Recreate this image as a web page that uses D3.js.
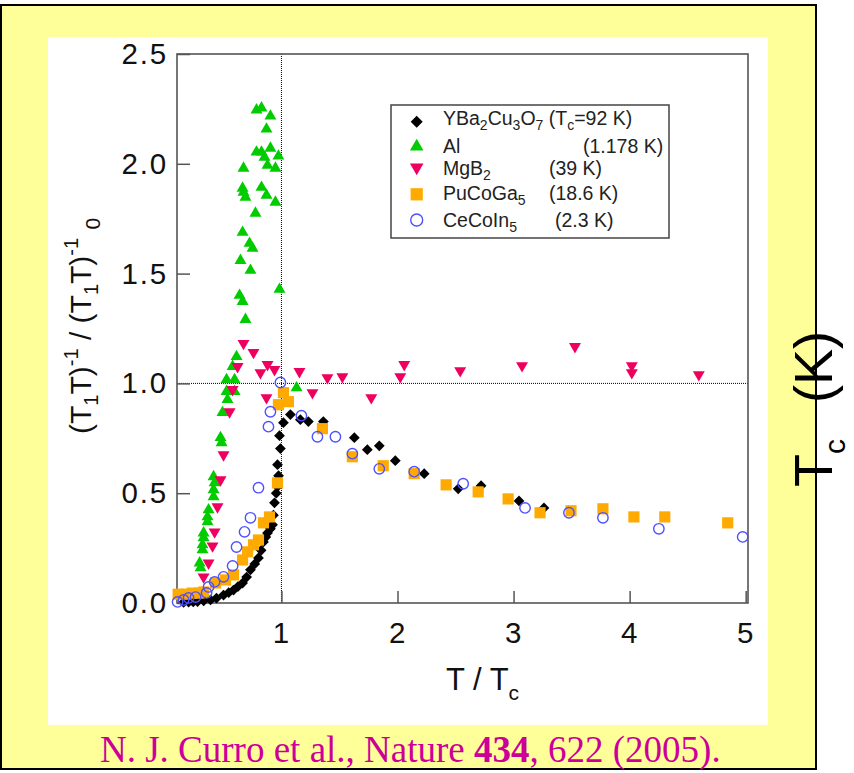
<!DOCTYPE html>
<html>
<head>
<meta charset="utf-8">
<script src="https://cdn.jsdelivr.net/npm/d3@7"></script>
<style>
  html, body { margin: 0; padding: 0; background: #fff; }
  svg { display: block; }
</style>
</head>
<body>
<svg id="chart" width="854" height="773"></svg>
<script>
// Tick values
const xTicks = [1, 2, 3, 4, 5];
const yTicks = [0, 0.5, 1.0, 1.5, 2.0, 2.5];

// Relaxation rate (T1T)^-1 normalised to its normal-state value, versus T/Tc
const ybco = [
  [0.157,0.003],[0.20,0.004],[0.24,0.005],[0.277,0.006],[0.33,0.010],[0.389,0.014],
  [0.44,0.022],[0.501,0.036],[0.545,0.047],[0.587,0.059],[0.625,0.075],[0.665,0.091],
  [0.70,0.118],[0.733,0.151],[0.77,0.178],[0.802,0.205],[0.825,0.240],[0.845,0.278],
  [0.865,0.300],[0.880,0.319],[0.905,0.338],[0.923,0.356],[0.931,0.400],[0.94,0.456],
  [0.955,0.500],[0.966,0.530],[0.975,0.580],[0.966,0.630],[0.991,0.703],[0.983,0.762],
  [1.017,0.821],[1.077,0.858],[1.163,0.835],[1.232,0.826],[1.361,0.826],[1.628,0.753],
  [1.740,0.698],[1.843,0.716],[1.981,0.648],[2.230,0.589],[2.523,0.520],[2.720,0.534],
  [3.047,0.465],[3.262,0.433]
];
const al = [
  [0.295,0.182],[0.303,0.160],[0.320,0.265],[0.320,0.242],[0.329,0.319],[0.329,0.297],
  [0.363,0.392],[0.363,0.370],[0.372,0.424],[0.415,0.575],[0.424,0.547],[0.415,0.516],
  [0.415,0.484],[0.475,0.753],[0.484,0.730],[0.492,0.867],[0.535,0.926],[0.527,0.963],
  [0.596,0.963],[0.527,1.017],[0.596,1.017],[0.579,1.077],[0.613,1.122],[0.690,1.291],
  [0.665,1.373],[0.639,1.401],[0.983,1.428],[0.733,1.515],[0.647,1.560],[0.751,1.615],
  [0.725,1.638],[0.665,1.688],[0.776,1.775],[0.948,1.825],[0.871,1.857],[0.690,1.848],
  [0.673,1.870],[0.665,1.889],[0.828,1.893],[0.948,1.980],[0.673,1.980],[0.880,1.993],
  [0.974,2.035],[0.854,2.030],[0.905,2.071],[0.785,2.053],[0.828,2.053],[0.871,2.158],
  [0.905,2.217],[0.785,2.245],[0.828,2.254],[1.130,0.980]
];
const mgb2 = [
  [0.329,0.119],[0.372,0.182],[0.406,0.260],[0.424,0.324],[0.449,0.438],[0.475,0.561],
  [0.501,0.675],[0.553,0.871],[0.579,0.972],[0.622,1.077],[0.673,1.182],[0.759,1.141],
  [0.819,1.049],[0.871,0.935],[0.880,1.086],[0.940,1.063],[1.155,1.054],[1.267,0.958],
  [1.396,1.026],[1.525,1.031],[1.774,0.935],[2.024,1.031],[2.058,1.086],[2.540,1.058],
  [3.073,1.081],[3.529,1.168],[4.019,1.081],[4.019,1.049],[4.596,1.040]
];
const pucoga5 = [
  [0.11,0.040],[0.17,0.040],[0.23,0.045],[0.29,0.045],[0.33,0.050],[0.432,0.091],
  [0.518,0.105],[0.587,0.128],[0.665,0.196],[0.708,0.233],[0.759,0.265],[0.802,0.287],
  [0.845,0.365],[0.897,0.392],[0.966,0.547],[0.974,0.903],[1.017,0.958],[1.060,0.917],
  [1.353,0.794],[1.611,0.666],[1.877,0.625],[2.144,0.589],[2.419,0.538],[2.695,0.506],
  [2.953,0.474],[3.228,0.411],[3.495,0.420],[3.770,0.429],[4.037,0.392],[4.303,0.392],
  [4.845,0.365]
];
const cecoin5 = [
  [0.105,0.005],[0.157,0.014],[0.200,0.023],[0.260,0.027],[0.355,0.046],[0.372,0.073],
  [0.424,0.096],[0.501,0.119],[0.579,0.169],[0.613,0.255],[0.682,0.324],[0.733,0.388],
  [0.802,0.525],[0.888,0.803],[0.905,0.871],[0.991,1.004],[1.172,0.853],[1.310,0.757],
  [1.465,0.757],[1.611,0.680],[1.843,0.611],[2.144,0.598],[2.566,0.543],[3.099,0.433],
  [3.477,0.411],[3.770,0.388],[4.252,0.338],[4.974,0.301]
];

const COL = { ybco: "#000000", al: "#00cc00", mgb2: "#f0005e", pu: "#ffaa00", ce: "#5050ff" };
const SANS = "'Liberation Sans', Arial, Helvetica, sans-serif";
const SERIF = "'Liberation Serif', 'Times New Roman', serif";

const svg = d3.select("#chart");

// Slide background: yellow frame with black border, white chart panel
svg.append("rect").attr("x", 1).attr("y", 5).attr("width", 815).attr("height", 764)
  .attr("fill", "#ffff99").attr("stroke", "#000").attr("stroke-width", 2);
svg.append("rect").attr("x", 48).attr("y", 37).attr("width", 720).attr("height", 688)
  .attr("fill", "#fff");

const x = d3.scaleLinear().domain([0.1, 5.02]).range([177, 748]);
const y = d3.scaleLinear().domain([0, 2.5]).range([603, 54]);

// Reference lines at T = Tc and ratio = 1
const ref = svg.append("g").attr("stroke", "#000").attr("stroke-width", 1).attr("stroke-dasharray", "1,1");
ref.append("line").attr("x1", x(1)).attr("x2", x(1)).attr("y1", y(2.5)).attr("y2", y(0));
ref.append("line").attr("x1", x(0.1)).attr("x2", x(5.02)).attr("y1", y(1)).attr("y2", y(1));

// Axes with inward ticks
const yAxis = svg.append("g").attr("transform", `translate(${x(0.1)},0)`)
  .call(d3.axisLeft(y).tickValues(yTicks).tickFormat(d3.format(".1f"))
    .tickSize(-13).tickSizeOuter(0).tickPadding(9));
const xAxis = svg.append("g").attr("transform", `translate(0,${y(0)})`)
  .call(d3.axisBottom(x).tickValues(xTicks).tickFormat(d3.format("d"))
    .tickSize(-12).tickSizeOuter(0).tickPadding(19));
[yAxis, xAxis].forEach(g => {
  g.select(".domain").remove();
  g.selectAll(".tick line").attr("stroke", "#555").attr("stroke-width", 1.5);
  g.selectAll(".tick text").attr("fill", "#111").attr("font-family", SANS)
    .attr("font-size", 29.5).attr("letter-spacing", 1.8);
});

// Plot frame
svg.append("rect").attr("x", x(0.1)).attr("y", y(2.5))
  .attr("width", x(5.02) - x(0.1)).attr("height", y(0) - y(2.5))
  .attr("fill", "none").attr("stroke", "#555").attr("stroke-width", 1.6);

// Marker drawing helpers
const sq = d3.symbol().type(d3.symbolSquare);
const tri = d3.symbol().type(d3.symbolTriangle);
function drawSeries(data, pathGen, size, rot, fill, stroke, sw) {
  svg.append("g").selectAll("path").data(data).join("path")
    .attr("transform", d => `translate(${x(d[0])},${y(d[1])}) rotate(${rot})`)
    .attr("d", pathGen.size(size)())
    .attr("fill", fill).attr("stroke", stroke).attr("stroke-width", sw);
}
drawSeries(ybco, sq, 58, 45, COL.ybco, "none", 0);
drawSeries(al, tri, 62, 0, COL.al, "none", 0);
drawSeries(mgb2, tri, 62, 180, COL.mgb2, "none", 0);
drawSeries(pucoga5, sq, 125, 0, COL.pu, "none", 0);
svg.append("g").selectAll("circle").data(cecoin5).join("circle")
  .attr("cx", d => x(d[0])).attr("cy", d => y(d[1])).attr("r", 5.2)
  .attr("fill", "none").attr("stroke", COL.ce).attr("stroke-width", 1.4);

// Legend
const lg = svg.append("g");
lg.append("rect").attr("x", 391).attr("y", 105).attr("width", 278).attr("height", 133)
  .attr("fill", "#fff").attr("stroke", "#444").attr("stroke-width", 1.5);
const legendRows = [
  { key: "ybco", base: 125, cy: 121.7, name: [["YBa"],["2","sub"],["Cu"],["3","sub"],["O"],["7","sub"],[" (T"],["c","sub"],["=92 K)"]], extra: null },
  { key: "al", base: 153, cy: 146.5, name: [["Al"]], extra: ["(1.178 K)", 583] },
  { key: "mgb2", base: 175, cy: 167.5, name: [["MgB"],["2","sub"]], extra: ["(39 K)", 549] },
  { key: "pu", base: 200, cy: 194.3, name: [["PuCoGa"],["5","sub"]], extra: ["(18.6 K)", 549] },
  { key: "ce", base: 226.5, cy: 220, name: [["CeCoIn"],["5","sub"]], extra: ["(2.3 K)", 555] }
];
legendRows.forEach(r => {
  const mx = 416.7;
  if (r.key === "ybco") {
    lg.append("path").attr("transform", `translate(${mx},${r.cy}) rotate(45)`)
      .attr("d", sq.size(72)()).attr("fill", COL.ybco);
  } else if (r.key === "al") {
    lg.append("path").attr("transform", `translate(${mx},${r.cy})`)
      .attr("d", tri.size(80)()).attr("fill", COL.al);
  } else if (r.key === "mgb2") {
    lg.append("path").attr("transform", `translate(${mx},${r.cy}) rotate(180)`)
      .attr("d", tri.size(80)()).attr("fill", COL.mgb2);
  } else if (r.key === "pu") {
    lg.append("path").attr("transform", `translate(${mx},${r.cy})`)
      .attr("d", sq.size(150)()).attr("fill", COL.pu);
  } else {
    lg.append("circle").attr("cx", mx).attr("cy", r.cy).attr("r", 6)
      .attr("fill", "none").attr("stroke", COL.ce).attr("stroke-width", 1.4);
  }
  const t = lg.append("text").attr("x", 443).attr("y", r.base)
    .attr("font-family", SANS).attr("font-size", 19.5).attr("fill", "#222");
  let shifted = false;
  r.name.forEach(([s, kind]) => {
    const ts = t.append("tspan").text(s);
    if (kind === "sub" && !shifted) { ts.attr("dy", 5).attr("font-size", 14); shifted = true; }
    else if (kind !== "sub" && shifted) { ts.attr("dy", -5); shifted = false; }
    else if (kind === "sub") { ts.attr("font-size", 14); }
  });
  if (r.extra) {
    lg.append("text").attr("x", r.extra[1]).attr("y", r.base)
      .attr("font-family", SANS).attr("font-size", 19.5).attr("fill", "#222").text(r.extra[0]);
  }
});

// Y axis title: (T1T)^-1 / (T1T)^-1_0
const yt = svg.append("text").attr("transform", "translate(91,434) rotate(-90)")
  .attr("font-family", SANS).attr("font-size", 30).attr("fill", "#111");
const ytParts = [
  ["(T", 0, 30], ["1", 7, 20], ["T)", -7, 30], ["-1", -13, 20], [" / (T", 13, 30],
  ["1", 7, 20], ["T)", -7, 30], ["-1", -13, 20], [" ", 13, 30], ["0", 9, 21]
];
ytParts.forEach(([s, dy, fs]) => yt.append("tspan").attr("dy", dy).attr("font-size", fs).text(s));

// X axis title: T / Tc
const xt = svg.append("text").attr("x", 446).attr("y", 690)
  .attr("font-family", SANS).attr("font-size", 31).attr("fill", "#111");
xt.append("tspan").text("T / T");
xt.append("tspan").attr("dy", 10).attr("font-size", 21).text("c");

// Right-hand rotated label
const rt = svg.append("text").attr("transform", "translate(832,487) rotate(-90)")
  .attr("font-family", SANS).attr("font-size", 54).attr("fill", "#000");
rt.append("tspan").text("T");
rt.append("tspan").attr("dy", 13).attr("font-size", 30).text("c");
rt.append("tspan").attr("dy", -13).attr("dx", 36).text("(K)");

// Citation
const ct = svg.append("text").attr("x", 100).attr("y", 762)
  .attr("font-family", SERIF).attr("font-size", 37).attr("fill", "#cc0099");
ct.append("tspan").text("N. J. Curro et al., Nature ");
ct.append("tspan").attr("font-weight", "bold").text("434");
ct.append("tspan").text(", 622 (2005).");
</script>
</body>
</html>
